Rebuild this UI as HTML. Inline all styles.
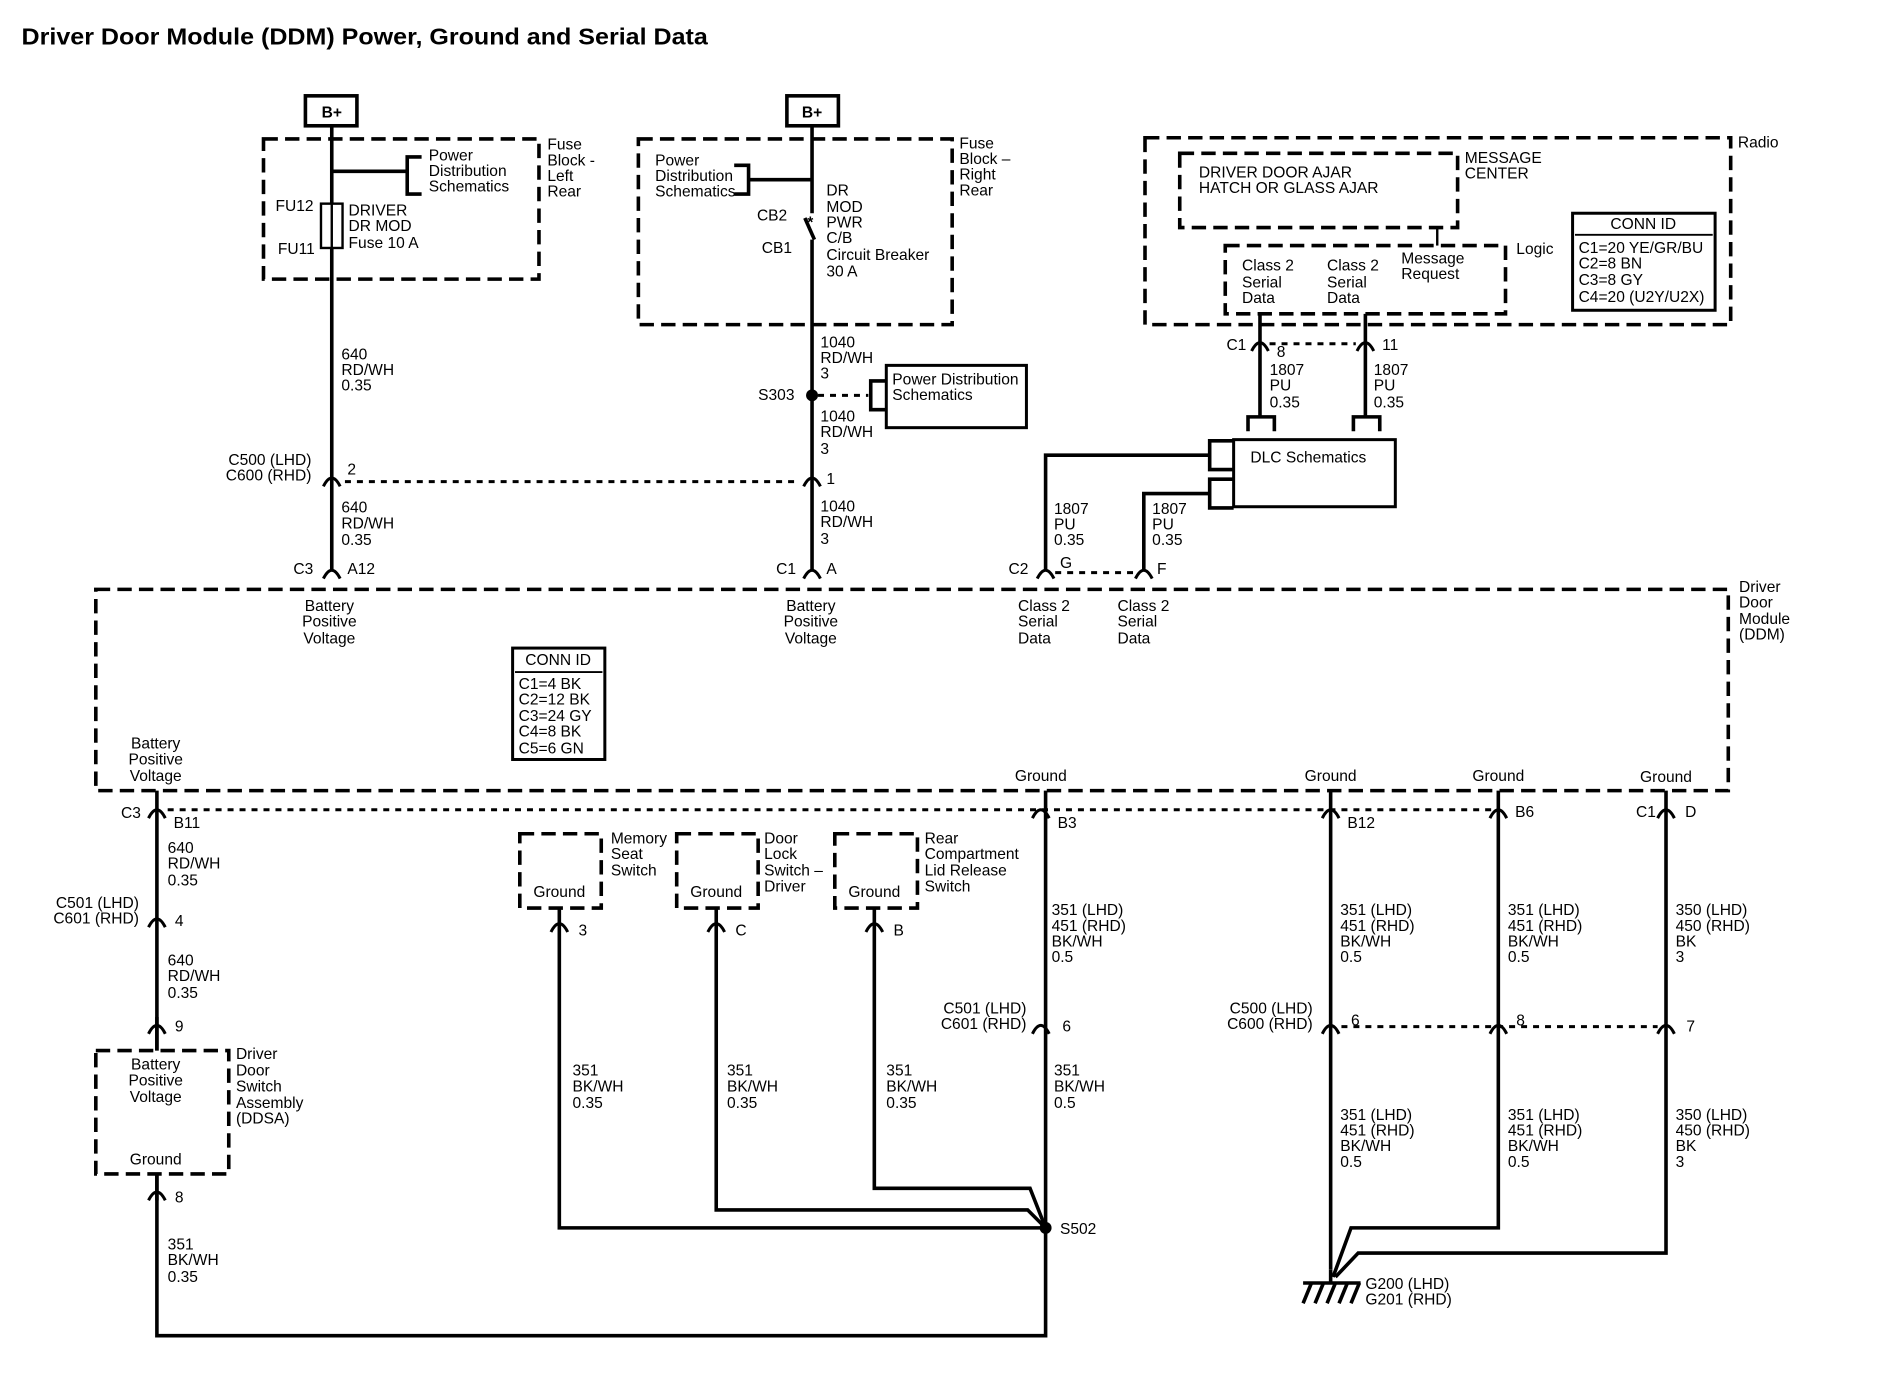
<!DOCTYPE html>
<html><head><meta charset="utf-8"><style>
html,body{margin:0;padding:0;background:#fff;}
svg{display:block;}
text{font-family:"Liberation Sans",Arial,sans-serif;font-size:13px;fill:#000;}
.b{font-weight:bold;}
.w{stroke:#000;stroke-width:3;fill:none;}
.d{stroke:#000;stroke-width:3;fill:none;stroke-dasharray:12,6;}
.dd{stroke:#000;stroke-width:2.5;fill:none;stroke-dasharray:5,5;}
.c{stroke:#000;stroke-width:2.5;fill:#fff;}
</style></head><body>
<svg width="1878" height="1392" viewBox="0 0 1568 1162" preserveAspectRatio="none" xmlns="http://www.w3.org/2000/svg">
<rect width="1568" height="1162" fill="#fff"/>
<text x="18" y="37" class="b" style="font-size:19.5px" textLength="573" lengthAdjust="spacingAndGlyphs">Driver Door Module (DDM) Power, Ground and Serial Data</text>

<!-- Left fuse block -->
<rect x="255" y="80" width="43" height="25" fill="#fff" stroke="#000" stroke-width="3"/>
<text x="277" y="98" text-anchor="middle" class="b">B+</text>
<rect x="220" y="116" width="230" height="117" class="d"/>
<line x1="277" y1="105" x2="277" y2="477" class="w"/>
<line x1="277" y1="143" x2="340" y2="143" class="w" stroke-width="2"/>
<path d="M352 131 H340 V162 H352" class="w" stroke-width="2"/>
<text x="358" y="134">Power</text><text x="358" y="147">Distribution</text><text x="358" y="160">Schematics</text>
<text x="457" y="125">Fuse</text><text x="457" y="138">Block -</text><text x="457" y="151">Left</text><text x="457" y="164">Rear</text>
<rect x="268" y="170" width="18" height="37" fill="#fff" stroke="#000" stroke-width="2"/>
<line x1="277" y1="170" x2="277" y2="207" stroke="#000" stroke-width="2"/>
<text x="230" y="176">FU12</text><text x="232" y="212">FU11</text>
<text x="291" y="180">DRIVER</text><text x="291" y="193">DR MOD</text><text x="291" y="207">Fuse 10 A</text>
<text x="285" y="300">640</text><text x="285" y="313">RD/WH</text><text x="285" y="326">0.35</text>
<text x="260" y="388" text-anchor="end">C500 (LHD)</text><text x="260" y="401" text-anchor="end">C600 (RHD)</text>
<text x="290" y="396">2</text>
<line x1="288" y1="402" x2="668" y2="402" class="dd"/>
<text x="285" y="428">640</text><text x="285" y="441">RD/WH</text><text x="285" y="455">0.35</text>
<text x="245" y="479">C3</text><text x="290" y="479">A12</text>

<!-- Middle fuse block -->
<rect x="657" y="80" width="43" height="25" fill="#fff" stroke="#000" stroke-width="3"/>
<text x="678" y="98" text-anchor="middle" class="b">B+</text>
<rect x="533" y="116" width="262" height="155" class="d"/>
<line x1="678" y1="105" x2="678" y2="178" class="w"/>
<line x1="680" y1="200" x2="672" y2="182" class="w" stroke-width="2"/>
<line x1="678" y1="200" x2="678" y2="477" class="w"/>
<text x="674" y="190" class="b">*</text>
<line x1="625" y1="150" x2="678" y2="150" class="w" stroke-width="2"/>
<path d="M613 138 H625 V162 H613" class="w" stroke-width="2"/>
<text x="547" y="138">Power</text><text x="547" y="151">Distribution</text><text x="547" y="164">Schematics</text>
<text x="801" y="124">Fuse</text><text x="801" y="137">Block –</text><text x="801" y="150">Right</text><text x="801" y="163">Rear</text>
<text x="632" y="184">CB2</text><text x="636" y="211">CB1</text>
<text x="690" y="163">DR</text><text x="690" y="177">MOD</text><text x="690" y="190">PWR</text><text x="690" y="203">C/B</text><text x="690" y="217">Circuit Breaker</text><text x="690" y="231">30 A</text>
<text x="685" y="290">1040</text><text x="685" y="303">RD/WH</text><text x="685" y="316">3</text>
<text x="633" y="334">S303</text>
<circle cx="678" cy="330" r="5" fill="#000"/>
<line x1="683" y1="330" x2="725" y2="330" class="dd"/>
<path d="M740 318 H727 V342 H740" class="w" stroke-width="2"/>
<rect x="740" y="305" width="117" height="52" fill="none" stroke="#000" stroke-width="2.5"/>
<text x="745" y="321">Power Distribution</text><text x="745" y="334">Schematics</text>
<text x="685" y="352">1040</text><text x="685" y="365">RD/WH</text><text x="685" y="379">3</text>
<text x="690" y="404">1</text>
<text x="685" y="427">1040</text><text x="685" y="440">RD/WH</text><text x="685" y="454">3</text>
<text x="648" y="479">C1</text><text x="690" y="479">A</text>

<!-- Radio -->
<rect x="956" y="115" width="489" height="156" class="d"/>
<text x="1451" y="123">Radio</text>
<rect x="985" y="128" width="232" height="62" class="d"/>
<text x="1001" y="148">DRIVER DOOR AJAR</text><text x="1001" y="161">HATCH OR GLASS AJAR</text>
<text x="1223" y="136">MESSAGE</text><text x="1223" y="149">CENTER</text>
<line x1="1200" y1="190" x2="1200" y2="205" stroke="#000" stroke-width="2"/>
<rect x="1023" y="205" width="234" height="57" class="d"/>
<text x="1266" y="212">Logic</text>
<text x="1037" y="226">Class 2</text><text x="1037" y="240">Serial</text><text x="1037" y="253">Data</text>
<text x="1108" y="226">Class 2</text><text x="1108" y="240">Serial</text><text x="1108" y="253">Data</text>
<text x="1170" y="220">Message</text><text x="1170" y="233">Request</text>
<rect x="1313" y="178" width="119" height="81" fill="none" stroke="#000" stroke-width="2.5"/>
<text x="1372" y="191" text-anchor="middle">CONN ID</text>
<line x1="1315" y1="196" x2="1430" y2="196" stroke="#000" stroke-width="1.5"/>
<text x="1318" y="211">C1=20 YE/GR/BU</text><text x="1318" y="224">C2=8 BN</text><text x="1318" y="238">C3=8 GY</text><text x="1318" y="252">C4=20 (U2Y/U2X)</text>
<line x1="1052" y1="262" x2="1052" y2="348" class="w"/>
<line x1="1140" y1="262" x2="1140" y2="348" class="w"/>
<path d="M1042 360 V348 H1064 V360" class="w" stroke-width="2.5"/>
<path d="M1130 360 V348 H1152 V360" class="w" stroke-width="2.5"/>
<text x="1024" y="292">C1</text><text x="1066" y="298">8</text><text x="1154" y="292">11</text>
<line x1="1060" y1="287" x2="1132" y2="287" class="dd"/>
<text x="1060" y="313">1807</text><text x="1060" y="326">PU</text><text x="1060" y="340">0.35</text>
<text x="1147" y="313">1807</text><text x="1147" y="326">PU</text><text x="1147" y="340">0.35</text>
<rect x="1030" y="367" width="135" height="56" fill="none" stroke="#000" stroke-width="2.5"/>
<text x="1044" y="386">DLC Schematics</text>
<path d="M1030 368 H1010 V392 H1030" class="w" stroke-width="2.5"/>
<path d="M1030 400 H1010 V424 H1030" class="w" stroke-width="2.5"/>
<path d="M1010 380 H873 V477" class="w"/>
<path d="M1010 412 H955 V477" class="w"/>
<text x="880" y="429">1807</text><text x="880" y="442">PU</text><text x="880" y="455">0.35</text>
<text x="962" y="429">1807</text><text x="962" y="442">PU</text><text x="962" y="455">0.35</text>
<text x="842" y="479">C2</text><text x="885" y="474">G</text><text x="966" y="479">F</text>
<line x1="881" y1="478" x2="947" y2="478" class="dd"/>

<!-- DDM -->
<rect x="80" y="492" width="1363" height="168" class="d"/>
<text x="1452" y="494">Driver</text><text x="1452" y="507">Door</text><text x="1452" y="521">Module</text><text x="1452" y="534">(DDM)</text>
<g text-anchor="middle">
<text x="275" y="510">Battery</text><text x="275" y="523">Positive</text><text x="275" y="537">Voltage</text>
<text x="677" y="510">Battery</text><text x="677" y="523">Positive</text><text x="677" y="537">Voltage</text>
<text x="130" y="625">Battery</text><text x="130" y="638">Positive</text><text x="130" y="652">Voltage</text>
<text x="869" y="652">Ground</text><text x="1111" y="652">Ground</text><text x="1251" y="652">Ground</text><text x="1391" y="653">Ground</text>
<text x="466" y="555">CONN ID</text>
</g>
<text x="850" y="510">Class 2</text><text x="850" y="523">Serial</text><text x="850" y="537">Data</text>
<text x="933" y="510">Class 2</text><text x="933" y="523">Serial</text><text x="933" y="537">Data</text>
<rect x="428" y="541" width="77" height="93" fill="none" stroke="#000" stroke-width="2.5"/>
<line x1="430" y1="561" x2="503" y2="561" stroke="#000" stroke-width="1.5"/>
<text x="433" y="575">C1=4 BK</text><text x="433" y="588">C2=12 BK</text><text x="433" y="602">C3=24 GY</text><text x="433" y="615">C4=8 BK</text><text x="433" y="629">C5=6 GN</text>

<!-- bottom -->
<line x1="140" y1="676" x2="1245" y2="676" class="dd"/>
<text x="101" y="683">C3</text><text x="145" y="691">B11</text>
<text x="883" y="691">B3</text><text x="1125" y="691">B12</text><text x="1265" y="682">B6</text>
<text x="1366" y="682">C1</text><text x="1407" y="682">D</text>

<path d="M131 660 V1115 H873 V660" class="w"/>
<text x="140" y="712">640</text><text x="140" y="725">RD/WH</text><text x="140" y="739">0.35</text>
<text x="116" y="758" text-anchor="end">C501 (LHD)</text><text x="116" y="771" text-anchor="end">C601 (RHD)</text>
<text x="146" y="773">4</text>
<text x="140" y="806">640</text><text x="140" y="819">RD/WH</text><text x="140" y="833">0.35</text>
<text x="146" y="861">9</text>
<rect x="80" y="877" width="111" height="103" class="d" style="fill:#fff"/>
<g text-anchor="middle"><text x="130" y="893">Battery</text><text x="130" y="906">Positive</text><text x="130" y="920">Voltage</text><text x="130" y="972">Ground</text></g>
<text x="197" y="884">Driver</text><text x="197" y="898">Door</text><text x="197" y="911">Switch</text><text x="197" y="925">Assembly</text><text x="197" y="938">(DDSA)</text>
<text x="146" y="1004">8</text>
<text x="140" y="1043">351</text><text x="140" y="1056">BK/WH</text><text x="140" y="1070">0.35</text>

<rect x="434" y="696" width="68" height="62" class="d"/><text x="467" y="749" text-anchor="middle">Ground</text>
<text x="510" y="704">Memory</text><text x="510" y="717">Seat</text><text x="510" y="731">Switch</text>
<rect x="565" y="696" width="68" height="62" class="d"/><text x="598" y="749" text-anchor="middle">Ground</text>
<text x="638" y="704">Door</text><text x="638" y="717">Lock</text><text x="638" y="731">Switch –</text><text x="638" y="744">Driver</text>
<rect x="697" y="696" width="69" height="62" class="d"/><text x="730" y="749" text-anchor="middle">Ground</text>
<text x="772" y="704">Rear</text><text x="772" y="717">Compartment</text><text x="772" y="731">Lid Release</text><text x="772" y="744">Switch</text>
<path d="M467 758 V1025 H873" class="w"/>
<path d="M598 758 V1010 H858 L873 1025" class="w"/>
<path d="M730 758 V992 H860 L873 1025" class="w"/>
<text x="483" y="781">3</text><text x="614" y="781">C</text><text x="746" y="781">B</text>
<text x="478" y="898">351</text><text x="478" y="911">BK/WH</text><text x="478" y="925">0.35</text>
<text x="607" y="898">351</text><text x="607" y="911">BK/WH</text><text x="607" y="925">0.35</text>
<text x="740" y="898">351</text><text x="740" y="911">BK/WH</text><text x="740" y="925">0.35</text>
<circle cx="873" cy="1025" r="5" fill="#000"/>
<text x="885" y="1030">S502</text>
<text x="878" y="764">351 (LHD)</text><text x="878" y="777">451 (RHD)</text><text x="878" y="790">BK/WH</text><text x="878" y="803">0.5</text>
<text x="857" y="846" text-anchor="end">C501 (LHD)</text><text x="857" y="859" text-anchor="end">C601 (RHD)</text>
<text x="887" y="861">6</text>
<text x="880" y="898">351</text><text x="880" y="911">BK/WH</text><text x="880" y="925">0.5</text>

<path d="M1111 660 V1060" class="w"/>
<path d="M1251 660 V1025 H1128 L1113 1066" class="w"/>
<path d="M1391 660 V1046 H1134 L1115 1066" class="w"/>
<line x1="1111" y1="1060" x2="1111" y2="1070" class="w"/>
<line x1="1088" y1="1071" x2="1136" y2="1071" class="w"/>
<path d="M1095 1071 L1088 1088 M1105 1071 L1098 1088 M1115 1071 L1108 1088 M1125 1071 L1118 1088 M1135 1071 L1128 1088" class="w" stroke-width="2"/>
<text x="1140" y="1076">G200 (LHD)</text><text x="1140" y="1089">G201 (RHD)</text>
<text x="1119" y="764">351 (LHD)</text><text x="1119" y="777">451 (RHD)</text><text x="1119" y="790">BK/WH</text><text x="1119" y="803">0.5</text>
<text x="1259" y="764">351 (LHD)</text><text x="1259" y="777">451 (RHD)</text><text x="1259" y="790">BK/WH</text><text x="1259" y="803">0.5</text>
<text x="1399" y="764">350 (LHD)</text><text x="1399" y="777">450 (RHD)</text><text x="1399" y="790">BK</text><text x="1399" y="803">3</text>
<text x="1096" y="846" text-anchor="end">C500 (LHD)</text><text x="1096" y="859" text-anchor="end">C600 (RHD)</text>
<text x="1128" y="856">6</text><text x="1266" y="856">8</text><text x="1408" y="861">7</text>
<line x1="1120" y1="857" x2="1384" y2="857" class="dd"/>
<text x="1119" y="935">351 (LHD)</text><text x="1119" y="948">451 (RHD)</text><text x="1119" y="961">BK/WH</text><text x="1119" y="974">0.5</text>
<text x="1259" y="935">351 (LHD)</text><text x="1259" y="948">451 (RHD)</text><text x="1259" y="961">BK/WH</text><text x="1259" y="974">0.5</text>
<text x="1399" y="935">350 (LHD)</text><text x="1399" y="948">450 (RHD)</text><text x="1399" y="961">BK</text><text x="1399" y="974">3</text>

<!-- connector symbols -->
<g class="c" fill="none">
<path d="M270 406 Q277 392 284 406" fill="none"/>
<path d="M671 406 Q678 392 685 406" fill="none"/>
<path d="M270 483 Q277 469 284 483" fill="none"/>
<path d="M671 483 Q678 469 685 483" fill="none"/>
<path d="M866 483 Q873 469 880 483" fill="none"/>
<path d="M948 483 Q955 469 962 483" fill="none"/>
<path d="M1045 293 Q1052 279 1059 293" fill="none"/>
<path d="M1133 293 Q1140 279 1147 293" fill="none"/>
<path d="M124 683 Q131 669 138 683" fill="none"/>
<path d="M862 683 Q869 669 876 683" fill="none"/>
<path d="M1104 683 Q1111 669 1118 683" fill="none"/>
<path d="M1244 683 Q1251 669 1258 683" fill="none"/>
<path d="M1384 683 Q1391 669 1398 683" fill="none"/>
<path d="M124 774 Q131 760 138 774" fill="none"/>
<path d="M124 863 Q131 849 138 863" fill="none"/>
<path d="M124 1002 Q131 988 138 1002" fill="none"/>
<path d="M460 778 Q467 764 474 778" fill="none"/>
<path d="M591 778 Q598 764 605 778" fill="none"/>
<path d="M723 778 Q730 764 737 778" fill="none"/>
<path d="M862 863 Q869 849 876 863" fill="none"/>
<path d="M1104 863 Q1111 849 1118 863" fill="none"/>
<path d="M1244 863 Q1251 849 1258 863" fill="none"/>
<path d="M1384 863 Q1391 849 1398 863" fill="none"/>
</g>
<line x1="131" y1="980" x2="131" y2="1002" class="w"/>
<line x1="131" y1="849" x2="131" y2="877" class="w"/>
</svg>
</body></html>
